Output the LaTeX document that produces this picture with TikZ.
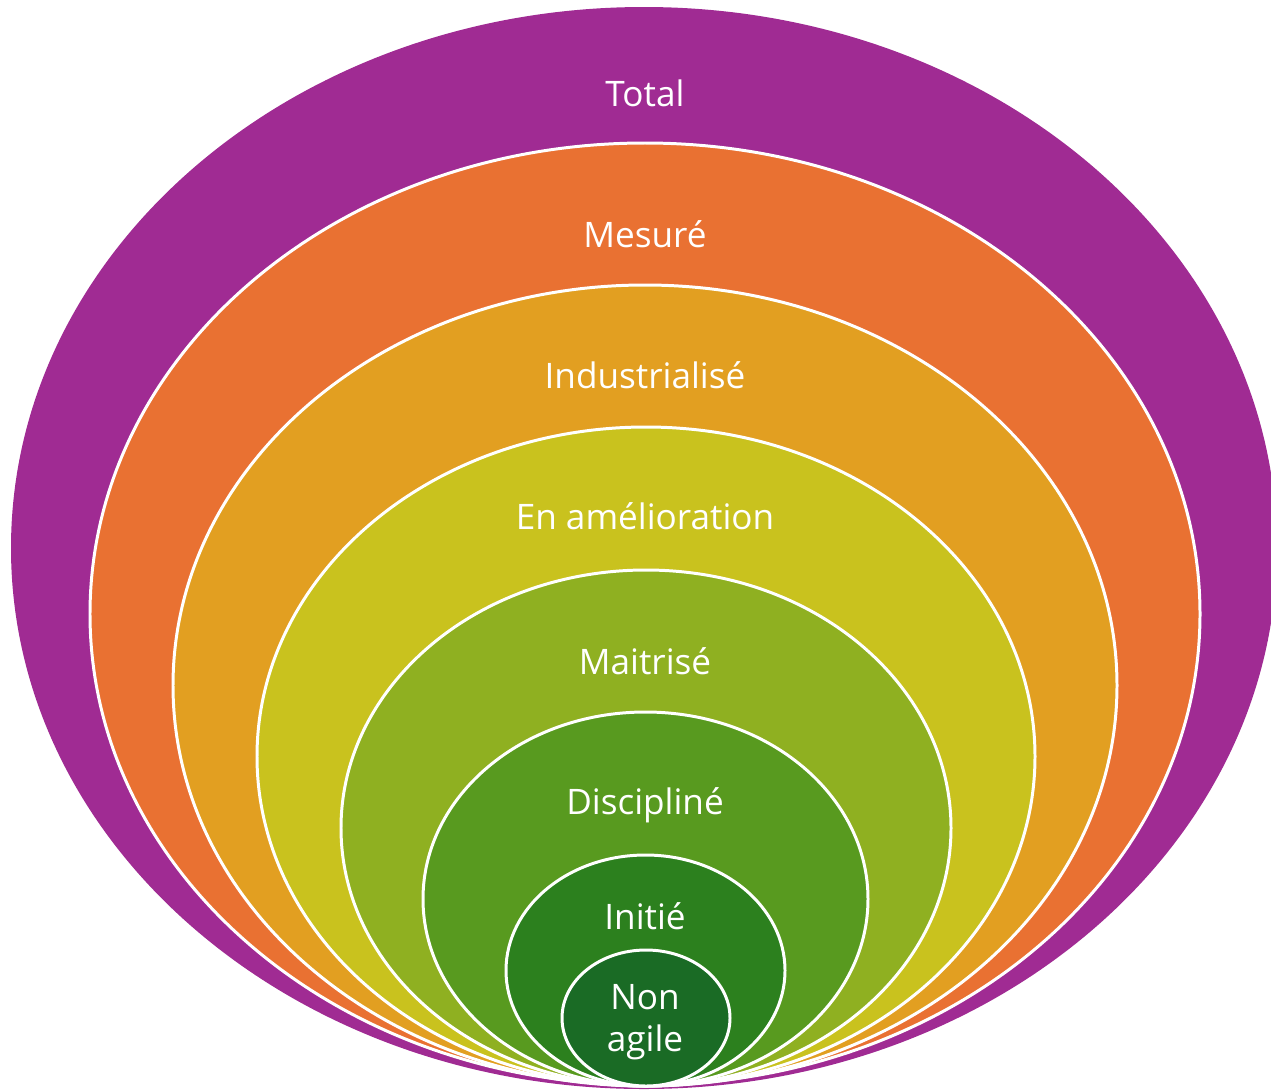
\documentclass[tikz,border=0pt]{standalone}
\usepackage{fontspec}
\setmainfont{Open Sans}
\usetikzlibrary{shapes.geometric}
\definecolor{cTotal}{HTML}{A02B93}
\definecolor{cMesure}{HTML}{E97132}
\definecolor{cIndus}{HTML}{E29F21}
\definecolor{cAmelio}{HTML}{C9C21E}
\definecolor{cMaitr}{HTML}{8FB021}
\definecolor{cDisc}{HTML}{589A1F}
\definecolor{cInit}{HTML}{2C801E}
\definecolor{cNon}{HTML}{1A6B25}
\begin{document}
\begin{tikzpicture}[x=0.02cm,y=-0.02cm]
    \tikzset{ring/.style = {shape=ellipse,draw=white,line width=1.7pt,inner sep=0pt,outer sep=0pt}}
    \tikzset{lbl/.style = {text=white,align=center,font=\fontsize{20}{24}\selectfont}}
    \useasboundingbox (0,0) rectangle (1271,1089);
    % nested levels, all touching at the bottom
    \node[ring,draw=none,fill=cTotal,minimum width=1266*0.02cm,minimum height=1082*0.02cm] (total) at (644,548) {};
    \node[ring,fill=cMesure,minimum width=1110*0.02cm,minimum height=942*0.02cm] (mesure) at (645,614) {};
    \node[ring,fill=cIndus,minimum width=944*0.02cm,minimum height=801*0.02cm] (indus) at (645,685.5) {};
    \node[ring,fill=cAmelio,minimum width=778*0.02cm,minimum height=659*0.02cm] (amelio) at (646,756.5) {};
    \node[ring,fill=cMaitr,minimum width=610*0.02cm,minimum height=516*0.02cm] (maitr) at (646,828) {};
    \node[ring,fill=cDisc,minimum width=445*0.02cm,minimum height=374*0.02cm] (disc) at (645.5,899) {};
    \node[ring,fill=cInit,minimum width=279*0.02cm,minimum height=231*0.02cm] (init) at (645.5,970.5) {};
    \node[ring,fill=cNon,minimum width=168*0.02cm,minimum height=136*0.02cm] (non) at (646,1018) {};
    % labels
    \node[lbl] (tTotal) at (645,93) {Total};
    \node[lbl] (tMesure) at (645,234) {Mesuré};
    \node[lbl] (tIndus) at (645,375) {Industrialisé};
    \node[lbl] (tAmelio) at (645,516) {En amélioration};
    \node[lbl] (tMaitr) at (645,661) {Maitrisé};
    \node[lbl] (tDisc) at (645,805) {Discipliné};
    \node[lbl] (tInit) at (645,916) {Initié};
    \node[lbl] (tNon) at (645,1022) {Non\\agile};
\end{tikzpicture}
\end{document}
